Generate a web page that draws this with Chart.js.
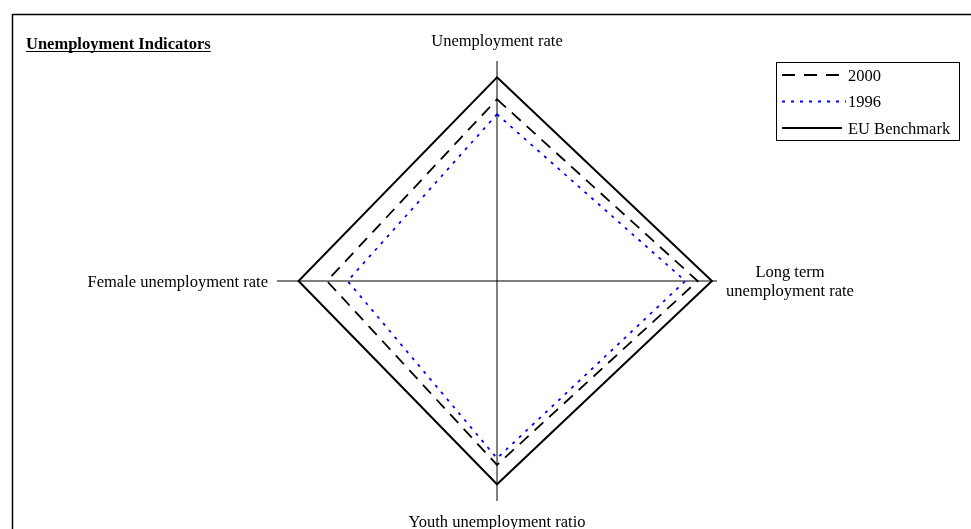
<!DOCTYPE html>
<html>
<head>
<meta charset="utf-8">
<script src="https://cdn.jsdelivr.net/npm/chart.js@4/dist/chart.umd.min.js"></script>
<style>
  body { margin: 0; background: #fff; }
  #wrap { width: 971px; height: 529px; }
</style>
</head>
<body>
<div id="wrap"><canvas id="myChart" width="971" height="529"></canvas></div>
<script>
  // indicators, clockwise from the top
  var axisLabels = ["Unemployment rate", "Long term unemployment rate", "Youth unemployment ratio", "Female unemployment rate"];
  var values2000 = [82.6, 91.2, 83.6, 77.3];
  var values1996 = [75.8, 85.6, 80.6, 67.9];
  var benchmark = [92.6, 97.7, 92.4, 90.2];
  var seriesNames = ["2000", "1996", "EU Benchmark"];

  var FONT = '"Liberation Serif", "Times New Roman", serif';

  // frame, title, axis captions and the boxed legend
  var decorations = {
    id: 'decorations',
    afterDraw: function (chart) {
      var ctx = chart.ctx;
      var s = chart.scales.r;
      var cx = s.xCenter, cy = s.yCenter, R = s.drawingArea;
      ctx.save();

      // frame (left + top edges)
      ctx.strokeStyle = '#000';
      ctx.lineWidth = 1.5;
      ctx.beginPath();
      ctx.moveTo(12.5, 529);
      ctx.lineTo(12.5, 14.5);
      ctx.lineTo(971, 14.5);
      ctx.stroke();

      // title
      ctx.fillStyle = '#000';
      ctx.font = 'bold 16.5px ' + FONT;
      ctx.textAlign = 'left';
      ctx.textBaseline = 'alphabetic';
      ctx.fillText('Unemployment Indicators', 26, 49);
      var tw = ctx.measureText('Unemployment Indicators').width;
      ctx.lineWidth = 1;
      ctx.beginPath();
      ctx.moveTo(26, 51.5);
      ctx.lineTo(26 + tw, 51.5);
      ctx.stroke();

      // axis captions
      ctx.font = '16.5px ' + FONT;
      ctx.textAlign = 'center';
      ctx.fillText(axisLabels[0], cx, cy - R - 15);
      ctx.fillText('Long term', cx + R + 73, cy - 4);
      ctx.fillText('unemployment rate', cx + R + 73, cy + 15);
      ctx.fillText(axisLabels[2], cx, cy + R + 26);
      ctx.textAlign = 'right';
      ctx.fillText(axisLabels[3], cx - R - 9, cy + 6);

      // legend
      ctx.lineWidth = 1;
      ctx.strokeStyle = '#000';
      ctx.strokeRect(776.5, 62.5, 183, 78);
      var rows = [75, 101.5, 128];
      var ds = chart.data.datasets;
      ctx.textAlign = 'left';
      for (var i = 0; i < ds.length; i++) {
        ctx.save();
        ctx.strokeStyle = ds[i].borderColor;
        ctx.lineWidth = ds[i].borderWidth;
        ctx.setLineDash(i === 0 ? [13, 9] : (ds[i].borderDash || []));
        ctx.beginPath();
        ctx.moveTo(782, rows[i]);
        ctx.lineTo(i === 1 ? 846 : (i === 0 ? 839 : 842), rows[i]);
        ctx.stroke();
        ctx.restore();
        ctx.fillStyle = '#000';
        ctx.fillText(seriesNames[i], 848, rows[i] + 5.5);
      }
      ctx.restore();
    }
  };

  new Chart('myChart', {
    type: 'radar',
    data: {
      labels: axisLabels,
      datasets: [{
        label: seriesNames[0],
        data: values2000,
        borderColor: '#000000',
        borderWidth: 1.8,
        borderDash: [12, 8],
        fill: false,
        pointRadius: 0
      }, {
        label: seriesNames[1],
        data: values1996,
        borderColor: '#0000ff',
        borderWidth: 1.8,
        borderDash: [3, 6],
        fill: false,
        pointRadius: 0
      }, {
        label: seriesNames[2],
        data: benchmark,
        borderColor: '#000000',
        borderWidth: 2,
        fill: false,
        pointRadius: 0
      }]
    },
    options: {
      responsive: false,
      animation: false,
      layout: { padding: { top: 61, bottom: 28, left: 23, right: 0 } },
      plugins: {
        legend: { display: false },
        tooltip: { enabled: false }
      },
      scales: {
        r: {
          min: 0,
          max: 100,
          ticks: { display: false },
          grid: { display: false },
          pointLabels: { display: false },
          angleLines: { display: true, color: '#000', lineWidth: 1 }
        }
      }
    },
    plugins: [decorations]
  });
</script>
</body>
</html>
